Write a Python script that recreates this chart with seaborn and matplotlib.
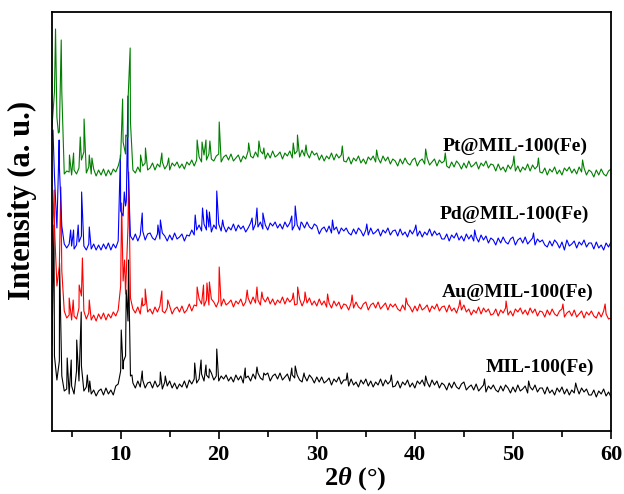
import numpy as np
import pandas as pd
import seaborn as sns
import matplotlib.pyplot as plt

# ---------------- data ----------------
GRID_START = 3.0   # 2theta of first baseline sample
GRID_STEP = 0.25   # spacing of baseline samples

SAMPLES = ["MIL-100(Fe)", "Au@MIL-100(Fe)", "Pd@MIL-100(Fe)", "Pt@MIL-100(Fe)"]
OFFSETS = [0, 75, 145, 219]

MIL_BASE = [
    86, 75, 51, 70, 55, 40, 42, 37, 45, 37, 60, 50, 65, 40, 44, 39, 37, 41, 35, 40,
    42, 36, 43, 37, 41, 36, 45, 47, 60, 62, 75, 110, 55, 48, 43, 50, 44, 51, 43, 48,
    49, 43, 50, 44, 47, 42, 49, 45, 50, 43, 48, 42, 47, 44, 50, 43, 51, 47, 52, 48,
    52, 57, 50, 56, 53, 58, 51, 55, 50, 55, 52, 56, 50, 54, 49, 56, 51, 55, 48, 53,
    55, 50, 57, 52, 58, 53, 51, 56, 58, 50, 55, 57, 52, 58, 51, 54, 57, 50, 56, 53,
    56, 51, 49, 55, 50, 56, 53, 48, 54, 49, 54, 48, 50, 53, 46, 52, 49, 54, 47, 51,
    51, 45, 52, 46, 49, 44, 51, 47, 52, 45, 50, 44, 49, 46, 52, 45, 51, 47, 50, 44,
    45, 50, 43, 49, 46, 51, 44, 48, 43, 50, 47, 51, 45, 49, 44, 51, 46, 50, 43, 48,
    46, 41, 48, 43, 49, 44, 42, 47, 49, 41, 44, 46, 41, 47, 40, 43, 46, 39, 45, 42,
    46, 41, 39, 45, 40, 46, 43, 38, 44, 39, 46, 40, 42, 45, 38, 44, 41, 46, 39, 43,
    43, 37, 44, 38, 41, 36, 43, 39, 44, 37, 42, 36, 41, 38, 44, 37, 43, 39, 42, 36,
    36, 41, 34, 40, 37, 42, 35, 39, 34,
]
MIL_PEAK_POS = [3.2, 3.77, 4.55, 4.96, 5.52, 5.98, 6.6, 6.85, 10.06, 10.3, 10.57, 10.8,
                11.15, 12.2, 14.05, 14.55, 17.55, 18.2, 18.7, 19.05, 19.8, 22.7, 23.9,
                24.6, 27.45, 27.8, 28.7, 33.1, 37.6, 41.1, 47.1, 51.6, 56.4]
MIL_PEAK_INT = [206, 168, 73, 71, 91, 119, 56, 50, 101, 70, 141, 171,
                56, 60, 59, 55, 68, 71, 66, 62, 82, 63, 64,
                58, 63, 65, 58, 58, 56, 55, 52, 50, 48]

AU_BASE = [
    110, 130, 70, 90, 85, 45, 38, 41, 36, 40, 37, 48, 60, 45, 37, 43, 36, 41, 35, 42,
    37, 43, 36, 42, 38, 44, 40, 46, 70, 75, 62, 130, 58, 47, 43, 49, 42, 50, 52, 44,
    47, 42, 49, 44, 50, 45, 43, 48, 50, 42, 47, 49, 44, 50, 43, 46, 52, 45, 51, 50,
    57, 52, 50, 56, 51, 57, 54, 49, 55, 50, 57, 51, 53, 56, 49, 55, 52, 57, 50, 54,
    58, 52, 59, 53, 56, 51, 58, 54, 59, 52, 57, 51, 56, 53, 59, 52, 58, 54, 57, 51,
    52, 57, 50, 56, 53, 58, 51, 55, 50, 57, 51, 55, 49, 53, 48, 55, 50, 54, 47, 52,
    51, 46, 53, 48, 54, 49, 47, 52, 54, 46, 51, 53, 48, 54, 47, 50, 53, 46, 52, 49,
    52, 47, 45, 51, 46, 52, 49, 44, 50, 45, 52, 46, 48, 51, 44, 50, 47, 52, 45, 49,
    50, 44, 51, 45, 48, 43, 50, 46, 51, 44, 47, 41, 46, 43, 49, 42, 48, 44, 47, 41,
    42, 47, 40, 46, 43, 48, 41, 45, 40, 47, 44, 48, 42, 46, 41, 48, 43, 47, 40, 45,
    44, 39, 46, 41, 47, 42, 40, 45, 47, 39, 43, 45, 40, 46, 39, 42, 45, 38, 44, 41,
    45, 40, 38, 44, 39, 45, 42, 37, 38,
]
AU_PEAK_POS = [3.22, 3.9, 4.75, 5.16, 5.77, 6.1, 6.8, 10.1, 10.4, 10.82, 12.2, 12.5,
               14.2, 14.8, 17.8, 18.45, 18.8, 19.05, 20.05, 22.9, 23.9, 24.4, 27.6,
               28.05, 28.8, 31.1, 33.6, 39.1, 44.6, 49.3, 55.1, 59.4]
AU_PEAK_INT = [166, 169, 58, 56, 71, 98, 56, 153, 96, 184, 58, 67,
               65, 56, 69, 71, 73, 74, 89, 66, 69, 64, 63,
               69, 64, 62, 61, 58, 56, 55, 52, 52]

PD_BASE = [
    150, 110, 58, 120, 60, 42, 38, 42, 40, 37, 41, 44, 50, 40, 36, 42, 37, 42, 36, 41,
    36, 42, 37, 43, 36, 42, 38, 45, 75, 70, 80, 120, 50, 46, 52, 45, 51, 55, 46, 52,
    53, 48, 46, 52, 47, 53, 50, 45, 51, 46, 53, 47, 49, 52, 45, 51, 50, 56, 51, 56,
    61, 55, 62, 56, 59, 54, 61, 57, 62, 55, 60, 54, 59, 56, 62, 55, 61, 57, 60, 54,
    58, 63, 56, 62, 59, 64, 57, 61, 56, 63, 60, 64, 58, 62, 57, 64, 59, 63, 56, 61,
    61, 56, 63, 58, 64, 59, 57, 62, 60, 52, 57, 59, 54, 60, 53, 56, 59, 52, 58, 55,
    58, 53, 51, 57, 52, 58, 55, 50, 56, 51, 58, 52, 54, 57, 50, 56, 53, 58, 51, 55,
    56, 50, 57, 51, 54, 49, 56, 52, 57, 50, 55, 49, 54, 51, 57, 50, 55, 51, 53, 47,
    47, 52, 45, 51, 48, 53, 46, 50, 45, 52, 47, 51, 45, 49, 44, 51, 46, 50, 43, 48,
    46, 41, 48, 43, 49, 44, 42, 47, 49, 41, 46, 48, 43, 49, 42, 45, 48, 41, 47, 44,
    46, 41, 39, 45, 40, 46, 43, 38, 44, 36, 46, 40, 42, 45, 38, 44, 41, 46, 39, 43,
    43, 37, 44, 38, 41, 36, 43, 39, 44,
]
PD_PEAK_POS = [3.1, 3.73, 4.9, 5.2, 5.67, 6.02, 6.8, 9.97, 10.37, 10.58, 10.74, 12.2,
               13.8, 14.05, 17.6, 18.35, 18.76, 19.05, 19.8, 20.4, 23.4, 23.9, 24.5,
               27.45, 27.8, 28.4, 31.6, 35.1, 40.1, 46.1, 52.1]
PD_PEAK_INT = [156, 146, 56, 56, 61, 94, 59, 131, 94, 85, 190, 73,
               61, 66, 71, 78, 76, 74, 95, 66, 68, 78, 73,
               70, 80, 64, 66, 62, 61, 56, 53]

PT_BASE = [
    85, 120, 95, 80, 120, 38, 41, 40, 37, 42, 38, 44, 52, 60, 39, 45, 38, 43, 36, 42,
    37, 43, 36, 42, 37, 43, 40, 46, 55, 70, 58, 75, 90, 42, 39, 45, 40, 46, 49, 42,
    44, 49, 42, 48, 45, 50, 43, 47, 42, 49, 46, 50, 44, 48, 43, 50, 47, 52, 46, 52,
    55, 50, 57, 52, 58, 53, 51, 56, 58, 50, 55, 57, 52, 58, 51, 54, 57, 50, 56, 53,
    61, 56, 54, 60, 55, 61, 58, 53, 59, 54, 61, 55, 57, 60, 53, 59, 56, 61, 54, 58,
    61, 55, 62, 56, 59, 54, 61, 57, 59, 52, 57, 51, 56, 53, 59, 52, 58, 54, 57, 51,
    50, 55, 48, 54, 51, 56, 49, 53, 48, 55, 52, 56, 50, 54, 49, 56, 51, 55, 48, 53,
    51, 46, 53, 48, 54, 49, 47, 52, 54, 46, 51, 53, 48, 54, 47, 50, 53, 46, 52, 49,
    51, 46, 44, 50, 45, 51, 48, 43, 49, 44, 51, 45, 47, 50, 43, 49, 46, 51, 44, 48,
    47, 41, 48, 42, 45, 40, 47, 43, 48, 41, 46, 40, 45, 42, 48, 41, 47, 43, 46, 40,
    39, 44, 37, 43, 40, 45, 38, 42, 37, 44, 41, 45, 39, 43, 38, 45, 40, 44, 37, 42,
    40, 35, 42, 37, 43, 38, 36, 41, 43,
]
PT_PEAK_POS = [3.36, 3.65, 3.94, 4.78, 5.2, 5.88, 6.27, 6.8, 7.07, 10.2, 10.52, 10.77,
               10.97, 12.03, 12.53, 14.2, 14.9, 17.8, 18.3, 18.7, 19.1, 20.05, 23.05,
               24.1, 24.6, 27.6, 28.03, 28.9, 32.6, 36.1, 41.1, 43.1, 50.1, 52.6, 57.1]
PT_PEAK_INT = [183, 79, 172, 57, 59, 75, 93, 57, 54, 113, 77, 116,
               164, 57, 64, 59, 54, 72, 70, 72, 71, 90, 69,
               71, 64, 69, 77, 67, 66, 62, 63, 59, 56, 54, 52]

BASES = [MIL_BASE, AU_BASE, PD_BASE, PT_BASE]
PEAK_POS = [MIL_PEAK_POS, AU_PEAK_POS, PD_PEAK_POS, PT_PEAK_POS]
PEAK_INT = [MIL_PEAK_INT, AU_PEAK_INT, PD_PEAK_INT, PT_PEAK_INT]

# series label positions (2theta, plotted height)
LABEL_X = [52.7, 50.45, 50.15, 50.25]
LABEL_Y = [64, 139, 217, 285]

X_TICKS = [10, 20, 30, 40, 50, 60]
X_MINOR = [5, 15, 25, 35, 45, 55]

# ---------------- style ----------------
COLORS = ["#000000", "#ff0000", "#0000ff", "#008000"]
SERIF = ["Liberation Serif", "DejaVu Serif"]

sns.set_theme(style="white")
plt.rcParams["font.family"] = SERIF
plt.rcParams["font.weight"] = "bold"
plt.rcParams["text.color"] = "black"
plt.rcParams["axes.labelcolor"] = "black"
plt.rcParams["xtick.color"] = "black"
plt.rcParams["mathtext.fontset"] = "custom"
plt.rcParams["mathtext.rm"] = "Liberation Serif:bold"
plt.rcParams["mathtext.it"] = "Liberation Serif:italic:bold"
plt.rcParams["mathtext.bf"] = "Liberation Serif:bold"

# ---------------- build long-form table ----------------
rows = []
for name, base, ppos, pint, off in zip(SAMPLES, BASES, PEAK_POS, PEAK_INT, OFFSETS):
    assert len(ppos) == len(pint), name
    grid = GRID_START + GRID_STEP * np.arange(len(base))
    xs = np.concatenate([grid, np.asarray(ppos, float)])
    ys = np.concatenate([np.asarray(base, float), np.asarray(pint, float)])
    order = np.argsort(xs, kind="stable")
    for x, y in zip(xs[order], ys[order]):
        rows.append((name, x, y + off))
df = pd.DataFrame(rows, columns=["sample", "two_theta", "intensity"])

# ---------------- draw ----------------
fig = plt.figure(figsize=(6.24, 4.94), dpi=100)
ax = fig.add_axes([52 / 624, 63 / 494, 559 / 624, 419 / 494])

sns.lineplot(data=df, x="two_theta", y="intensity", hue="sample",
             hue_order=SAMPLES, palette=COLORS, estimator=None, sort=True,
             linewidth=0.8, legend=False, ax=ax)

for name, lx, ly in zip(SAMPLES, LABEL_X, LABEL_Y):
    ax.text(lx, ly, name, ha="center", va="center", fontsize=14,
            fontweight="bold", family=SERIF, color="black")

ax.set_xlim(3, 60)
ax.set_ylim(0, 419)
ax.set_xticks(X_TICKS)
ax.set_xticks(X_MINOR, minor=True)
ax.set_yticks([])
ax.tick_params(axis="x", which="major", direction="out", length=6, width=1.2,
               bottom=True, top=False, labelsize=16, pad=4, colors="black")
ax.tick_params(axis="x", which="minor", direction="out", length=4, width=1.2,
               bottom=True, top=False, colors="black")
for lab in ax.get_xticklabels():
    lab.set_fontweight("bold")
for sp in ax.spines.values():
    sp.set_visible(True)
    sp.set_color("black")
    sp.set_linewidth(1.3)

ax.set_xlabel(r"2$\theta$ (°)", fontsize=19, fontweight="bold", color="black")
ax.set_ylabel("Intensity (a. u.)", fontsize=22, fontweight="bold", color="black")
ax.xaxis.set_label_coords(0.542, -0.082)
ax.yaxis.set_label_coords(-0.026, 0.55)

fig.savefig("out.png", dpi=100)
